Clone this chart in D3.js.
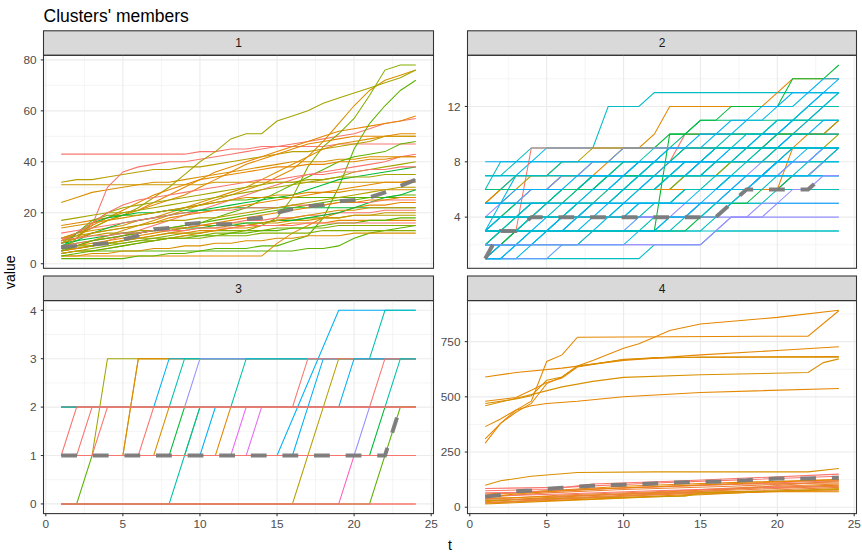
<!DOCTYPE html>
<html>
<head>
<meta charset="utf-8">
<script src="https://cdn.jsdelivr.net/npm/d3@7"></script>
<style>
  body { margin: 0; background: #fff; }
  svg { display: block; font-family: "Liberation Sans", Arial, sans-serif; }
</style>
</head>
<body>
<div id="chart"></div>
<script>
// time points used by clusters 1, 2 and the mean of cluster 4
const times = [1,2,3,4,5,6,7,8,9,10,11,12,13,14,15,16,17,18,19,20,21,22,23,24];

// ggplot hue colours, members point into this list
const palette = ['#F8766D','#EC8239','#E58700','#D89000','#C99800','#B79F00','#A3A500','#85AD00',
  '#5BB300','#00BA38','#00BF7D','#00C0AF','#00BFC4','#00B8E7','#00B0F6','#619CFF','#9590FF',
  '#B983FF','#E76BF3','#FF62BC'];

// cluster 1: one row per member, aligned with times
const values1 = [
  [43,43,43,43,43,43,43,43,43,44,44,45,45,46,46,46,46,46,47,47,47,47,47,47],
  [32,33,33,34,35,36,37,37,38,38,39,40,41,42,43,44,44,45,46,47,48,50,50,50],
  [31,31,31,31,31,31,31,31,31,31,32,32,32,32,32,32,32,32,32,32,32,32,32,32],
  [24,26,28,29,30,31,32,32,33,34,35,36,37,38,39,40,40,40,41,41,42,42,42,42],
  [8,10,15,30,36,38,39,40,40,41,42,43,44,45,46,47,48,49,50,51,53,55,56,57],
  [10,12,14,17,19,21,24,27,30,33,36,38,40,42,44,46,48,50,52,53,54,55,56,58],
  [6,7,9,11,13,15,17,19,21,23,25,27,29,31,34,37,42,48,55,62,68,72,74,76],
  [4,5,5,5,5,5,5,5,5,5,6,6,6,7,7,9,11,18,30,45,55,62,68,72],
  [5,6,7,8,9,10,10,10,11,11,12,12,13,15,18,26,38,46,51,57,66,76,78,78],
  [9,11,14,17,19,22,26,30,35,40,44,49,51,51,56,58,60,63,65,67,69,71,73,76],
  [15,16,17,18,20,21,23,25,27,30,33,36,39,41,43,45,47,48,49,50,50,50,51,51],
  [10,12,13,14,15,17,18,20,22,24,26,28,30,33,36,39,42,45,47,48,49,50,50,50],
  [7,8,9,10,11,12,13,14,15,16,18,20,22,25,28,31,34,37,40,42,43,44,47,48],
  [5,6,7,9,11,13,15,17,19,21,23,25,27,29,31,33,35,36,37,38,39,40,42,43],
  [9,12,15,18,21,24,27,29,31,33,34,35,36,37,38,38,39,39,40,40,41,41,42,42],
  [7,9,12,14,16,17,18,19,20,21,22,23,24,25,26,27,29,31,33,34,35,36,37,38],
  [17,18,19,20,20,21,22,23,24,25,26,27,28,29,30,31,32,33,34,36,37,38,39,40],
  [8,12,17,19,19,19,20,21,22,23,24,25,25,26,26,26,26,26,26,26,26,26,26,26],
  [6,12,16,18,19,20,20,21,21,21,21,22,22,22,22,22,22,22,22,22,22,22,22,22],
  [14,15,16,17,18,19,20,21,22,23,24,25,26,26,27,27,28,28,28,29,29,29,29,29],
  [3,3,3,3,3,3,3,3,3,3,3,3,3,3,8,12,15,18,20,22,23,23,24,24],
  [2,2,2,2,2,3,3,4,4,5,5,5,5,5,5,5,6,6,7,10,12,13,14,15],
  [4,5,6,7,8,9,10,11,12,12,13,13,13,13,14,14,14,14,15,15,15,15,15,15],
  [3,3,4,4,5,5,6,6,7,7,8,8,9,9,10,10,11,11,11,12,12,12,12,12],
  [5,6,7,8,9,10,11,12,12,13,13,14,14,15,15,16,16,16,17,17,17,17,17,17],
  [9,10,11,12,12,13,13,14,14,15,15,16,16,16,17,17,18,18,18,19,19,19,19,19],
  [7,8,9,10,11,12,13,14,14,15,16,16,17,17,18,18,19,19,20,20,20,21,21,21],
  [6,6,7,8,9,10,11,12,13,14,14,15,15,16,16,17,17,18,18,19,19,20,20,20],
  [5,7,9,10,11,12,13,14,15,16,17,18,19,20,21,22,23,24,25,25,26,26,27,27],
  [8,9,10,11,12,12,13,13,14,14,15,15,16,16,17,17,18,19,20,22,24,26,27,29],
  [12,13,14,15,16,17,18,19,20,20,21,21,22,22,22,23,23,23,24,24,24,25,25,25],
  [8,10,12,13,14,15,16,18,19,20,21,22,23,24,25,26,27,28,29,30,31,32,32,33],
  [5,10,16,20,22,23,24,25,26,27,28,29,30,31,32,32,33,33,34,34,34,35,35,35],
  [9,12,16,20,23,25,26,27,28,29,30,31,32,33,33,34,35,35,36,36,37,37,38,38],
  [4,5,5,6,7,8,9,10,11,12,13,14,15,16,17,18,19,20,21,21,22,22,22,22],
  [3,4,5,6,7,8,9,10,10,11,11,12,12,13,13,14,14,15,16,16,17,17,18,18],
  [6,7,8,9,10,11,12,13,14,15,16,17,18,19,20,21,22,23,24,24,25,25,26,26],
  [10,11,12,13,14,15,16,17,17,18,18,19,20,21,22,23,24,25,26,27,28,29,30,30],
  [6,7,7,8,8,9,9,10,10,10,11,11,11,12,12,12,12,13,13,13,13,13,13,13],
  [10,10,11,11,12,12,13,13,13,14,14,14,15,15,15,15,16,16,16,16,16,16,16,16]
];
const colour1 = [0,5,4,3,0,2,3,8,7,6,2,3,8,0,2,9,6,8,9,3,2,8,7,3,2,5,0,4,8,9,0,2,6,0,3,8,2,5,7,0];
const mean1 = [6.5,7,7.5,8,9.5,11,13.5,14,15.5,16,15.5,15.5,17.5,18,20,21.5,22.5,23,24.5,25,26,28,30.5,33];

// cluster 2: one row per member, aligned with times
const values2 = [
  [1,1,1,1,1,1,1,1,1,1,1,2,2,2,2,3,3,3,3,3,3,3,3,3],
  [2,2,2,2,2,2,2,2,2,2,2,2,2,2,2,3,4,4,4,5,5,5,5,5],
  [3,3,3,3,3,3,3,3,3,3,3,3,3,3,3,3,3,3,3,3,3,3,3,3],
  [4,4,4,4,4,4,4,4,4,4,4,4,4,4,4,4,4,4,4,4,4,4,4,4],
  [5,5,5,5,5,5,5,5,5,5,5,5,5,5,5,5,5,5,5,5,5,5,5,5],
  [6,6,6,6,6,6,6,6,6,6,6,6,6,6,6,6,6,6,6,6,6,6,6,6],
  [7,7,7,7,7,7,7,7,7,7,7,7,7,7,7,7,7,7,7,7,7,7,7,7],
  [6,8,8,8,8,8,8,8,8,8,8,8,8,8,8,8,8,8,8,8,8,8,8,8],
  [7,7,8,9,9,9,9,9,12,12,12,13,13,13,13,13,13,13,13,13,13,13,13,13],
  [3,5,7,8,9,9,9,9,9,9,9,9,9,9,9,9,9,9,9,9,9,9,9,9],
  [5,6,7,7,7,7,7,7,8,9,9,10,12,12,12,12,12,12,12,13,14,14,14,14],
  [2,3,3,9,9,9,9,9,9,9,9,9,9,9,9,9,9,9,9,9,9,9,9,9],
  [5,5,6,6,6,7,7,7,7,7,7,7,8,10,10,10,10,10,10,10,10,10,10,10],
  [2,3,3,3,3,3,3,3,3,3,3,3,10,10,10,10,10,10,10,10,10,10,10,11],
  [2,3,4,4,5,5,6,6,7,7,8,8,9,10,11,11,11,11,11,11,11,11,11,11],
  [3,4,5,6,6,7,7,8,8,9,9,9,10,10,11,11,12,12,12,12,14,14,14,15],
  [1,2,3,4,4,4,4,4,4,4,4,4,4,5,5,5,6,7,8,9,10,10,10,10],
  [5,6,6,7,7,8,8,9,9,9,9,9,9,9,9,9,9,9,9,10,10,11,12,12],
  [3,3,4,5,5,6,6,7,7,8,8,9,9,9,9,9,9,9,10,10,11,11,12,12],
  [1,1,2,3,3,4,4,5,5,6,6,7,7,8,8,9,9,9,9,9,10,11,12,13],
  [2,2,3,4,4,4,4,5,5,5,6,6,6,7,7,7,8,8,8,9,9,9,9,9],
  [1,1,1,2,3,3,3,3,4,4,5,5,5,6,6,6,7,7,7,8,8,8,9,9],
  [3,3,3,3,4,4,5,5,5,6,6,6,7,7,8,8,8,9,9,10,11,12,13,14],
  [4,4,5,5,5,5,6,6,6,6,7,7,7,7,8,8,8,8,9,9,9,9,9,9],
  [2,2,2,3,3,4,4,4,4,5,5,5,5,6,6,6,7,7,7,8,8,8,8,8],
  [4,4,4,4,5,5,5,5,6,6,6,6,6,7,7,7,8,8,8,8,9,9,9,10],
  [1,1,1,1,1,2,2,3,3,3,4,4,4,4,5,5,5,6,6,6,7,7,7,7],
  [2,2,2,2,2,2,2,3,3,3,3,4,4,4,4,5,5,5,5,6,6,6,6,6],
  [3,3,3,3,3,3,4,4,4,5,5,5,5,5,6,6,6,6,7,7,7,7,8,8],
  [1,2,3,3,3,3,3,3,3,3,3,3,3,3,4,4,5,5,6,6,7,7,8,9],
  [4,4,4,4,4,4,4,4,4,4,4,4,4,4,4,4,5,6,7,7,7,7,8,9],
  [5,6,6,6,6,6,6,6,6,6,6,6,6,6,6,6,6,6,6,6,9,10,10,11],
  [3,3,3,3,3,3,3,3,3,3,3,3,3,3,3,4,5,6,7,8,9,9,9,9],
  [5,5,5,6,6,6,6,7,7,7,7,8,8,8,8,9,9,9,10,10,11,12,13,13],
  [6,6,7,7,7,8,8,8,8,8,8,8,8,9,9,9,10,10,10,11,11,11,11,11],
  [1,2,2,3,3,4,4,5,5,6,6,7,7,8,8,9,9,9,9,9,9,9,9,9],
  [2,3,3,4,4,5,5,6,6,7,7,8,8,9,9,9,9,9,9,9,9,9,9,9],
  [3,4,4,5,5,6,6,7,7,7,8,8,9,9,9,10,10,11,11,12,12,13,13,13],
  [4,5,5,6,6,7,7,8,8,9,9,9,9,9,9,9,9,9,9,9,9,9,9,9],
  [1,1,2,2,3,3,4,4,5,5,6,6,7,7,8,8,9,9,9,9,9,9,9,9],
  [3,3,3,4,4,4,5,5,5,6,6,6,7,7,7,8,8,8,9,9,9,9,9,9],
  [2,2,2,2,3,3,3,4,4,4,5,5,5,6,6,6,7,7,7,8,8,8,9,9],
  [4,4,4,5,5,6,6,6,7,7,7,8,8,8,8,9,9,9,9,9,9,9,9,9],
  [5,5,5,5,5,6,6,7,7,8,8,8,8,9,9,9,9,9,9,9,9,9,9,9],
  [6,6,6,6,6,6,6,6,6,7,7,7,8,8,8,8,9,9,9,9,10,10,11,11],
  [3,3,3,3,3,3,3,3,3,3,3,3,4,4,5,5,6,6,7,7,8,8,9,9],
  [3,3,3,3,3,3,3,3,3,3,3,3,3,4,4,5,5,6,6,7,7,8,8,9],
  [4,4,4,4,4,4,4,4,4,4,4,4,4,4,5,5,6,6,7,7,8,8,9,9],
  [4,4,4,4,4,4,4,4,4,4,4,5,5,6,6,7,7,8,8,9,9,9,9,9],
  [5,5,5,5,5,5,5,5,5,5,5,5,5,5,5,6,6,7,7,8,8,9,9,9],
  [2,2,2,2,2,2,2,2,2,2,3,3,4,4,5,5,6,6,7,7,7,7,7,7],
  [7,7,7,7,7,7,7,7,7,7,7,7,7,8,8,9,9,10,10,11,11,12,12,13],
  [8,8,8,8,8,8,8,8,8,8,8,8,9,9,10,10,11,11,12,12,13,13,14,14],
  [6,6,6,6,6,6,6,6,7,7,7,7,7,7,7,8,8,9,9,10,10,10,10,10],
  [3,4,4,4,5,5,5,6,6,6,7,7,7,7,7,7,7,7,7,7,7,7,7,7],
  [2,2,2,2,2,2,2,2,2,2,2,2,2,2,2,3,4,4,5,5,6,6,7,7],
  [5,5,6,6,6,6,7,7,7,7,8,8,8,8,8,8,8,8,8,8,9,9,9,9],
  [4,4,4,4,4,4,5,5,6,6,7,7,7,7,7,8,8,9,9,9,9,9,9,9]
];
const colour2 = [12,16,12,16,14,13,14,12,12,13,2,0,0,9,10,9,16,5,11,13,10,13,14,10,12,6,15,11,13,9,16,2,12,14,11,
  14,12,13,16,14,11,13,12,10,14,13,12,16,11,14,13,12,14,10,13,16,14,12];
const mean2 = [1,3,3,4,4,4,4,4,4,4,4,4,4,4,4,4,5,6,6,6,6,6,7];

// cluster 3: members seen at irregular times, [t, value]
const pairs3 = [
  [[1,1],[3,1],[4,3],[24,3]],
  [[1,2],[2,2],[6,2]],
  [[1,0],[2,0],[3,1],[6,1]],
  [[1,1],[5,1],[6,3],[24,3]],
  [[1,1],[5,1],[6,3],[24,3]],
  [[1,1],[2,2],[24,2]],
  [[1,1],[2,1],[3,2],[24,2]],
  [[1,1],[3,1],[4,2],[24,2]],
  [[1,1],[6,1],[7,2],[24,2]],
  [[1,1],[7,1],[8,2],[24,2]],
  [[1,2],[7,2],[8,3],[24,3]],
  [[1,1],[8,1],[9,2],[24,2]],
  [[1,2],[8,2],[9,3],[24,3]],
  [[1,1],[9,1],[10,2],[24,2]],
  [[1,2],[9,2],[10,3],[24,3]],
  [[1,0],[8,0],[10,2],[24,2]],
  [[1,1],[10,1],[11,2],[24,2]],
  [[1,1],[11,1],[12,2],[24,2]],
  [[1,1],[12,1],[13,2],[24,2]],
  [[1,2],[12,2],[13,3],[17,3]],
  [[1,1],[13,1],[14,2],[24,2]],
  [[1,1],[15,1],[19,4],[24,4]],
  [[1,1],[16,1],[18,3],[24,3]],
  [[1,0],[16,0],[19,3],[24,3]],
  [[1,2],[16,2],[17,3],[24,3]],
  [[1,0],[19,0],[20,1],[24,1]],
  [[19,2],[20,3],[24,3]],
  [[1,1],[20,1],[21,2],[24,2]],
  [[1,1],[21,1],[22,2],[24,2]],
  [[1,0],[21,0],[23,2],[24,2]],
  [[1,2],[21,2],[22,3],[24,3]],
  [[1,2],[22,2],[23,3],[24,3]],
  [[21,3],[22,4],[24,4]],
  [[1,0],[24,0]],
  [[1,0],[24,0]],
  [[2,2],[24,2]],
  [[2,2],[24,2]],
  [[1,1],[24,1]],
  [[1,1],[24,1]],
  [[1,1],[24,1]]
];
const colour3 = [6,19,8,2,3,0,0,0,0,3,14,9,11,8,16,11,14,2,18,11,18,14,14,5,0,19,14,16,9,8,0,11,11,0,0,0,0,0,0,0];
const mean3 = [[1,1],[22,1],[23,2]];

// cluster 4: members seen at irregular times, [t, value]
const pairs4 = [
  [[1,590],[3,610],[6,630],[10,665],[15,690],[20,710],[24,727]],
  [[1,480],[3,497],[4,530],[5,565],[6,585],[7,635],[10,670],[15,680],[24,683]],
  [[1,460],[4,510],[6,545],[8,570],[10,588],[15,600],[22,610],[23,655],[24,672]],
  [[1,365],[2,400],[3,440],[4,460],[5,470],[7,480],[10,500],[15,520],[24,538]],
  [[1,290],[2,380],[3,440],[4,480],[5,660],[6,690],[7,770],[22,775],[24,890]],
  [[1,310],[2,380],[3,430],[4,470],[5,560],[6,590],[7,640],[8,665],[10,720],[11,740],[12,770],[13,800],[15,830],[20,860],[24,892]],
  [[1,470],[3,490],[4,505],[5,575],[6,590],[7,640],[10,668],[12,678],[24,680]],
  [[1,100],[2,120],[4,140],[7,157],[12,160],[22,160],[24,175]],
  [[1,75],[5,80],[8,105],[14,120],[24,150]],
  [[1,85],[6,90],[12,110],[18,125],[24,140]],
  [[1,60],[4,70],[10,95],[16,110],[24,125]],
  [[1,45],[5,65],[10,80],[17,95],[24,115]],
  [[1,35],[6,55],[12,70],[18,90],[24,105]],
  [[1,25],[4,40],[10,60],[16,80],[24,100]],
  [[1,20],[5,35],[12,55],[17,70],[24,90]],
  [[1,15],[6,30],[13,50],[19,70],[24,85]],
  [[1,18],[3,25],[9,40],[15,60],[24,80]],
  [[1,30],[7,45],[14,65],[24,75]],
  [[1,40],[8,55],[16,70],[24,70]],
  [[1,50],[6,60],[12,75],[20,90],[24,95]],
  [[1,55],[5,75],[11,90],[18,105],[24,110]],
  [[1,65],[4,68],[9,85],[15,100],[24,120]],
  [[1,30],[5,38],[10,45],[14,50],[15,65],[24,80]],
  [[1,40],[4,35],[6,50],[12,65],[24,95]],
  [[1,20],[4,30],[8,45],[13,60],[24,120]],
  [[1,45],[3,60],[5,70],[9,85],[24,125]]
];
const colour4 = [2,2,3,2,2,2,3,3,0,0,2,1,1,2,1,3,2,1,2,0,1,0,4,1,1,2];
const mean4 = [48,55,72,76,83,88,93,97,100,102,104,108,112,113,115,115,120,122,127,130,130,130,132,134];

const yTicks1 = [0,20,40,60,80];
const yTicks2 = [4,8,12];
const yTicks3 = [0,1,2,3,4];
const yTicks4 = [0,250,500,750];
const xTicks = [0,5,10,15,20,25];

// layout
const W = 862, H = 552;
const cols = [{x0: 43.5, x1: 433.5}, {x0: 467.5, x1: 856.5}];
const rows = [{s0: 30.8, p0: 55.3, p1: 268.3}, {s0: 276, p0: 300.6, p1: 513.6}];

const toPairs = vals => vals.map((v, i) => [times[i], v]);

const panels = [
  {label: '1', members: values1.map(toPairs), colours: colour1, mean: toPairs(mean1), ticks: yTicks1, col: 0, row: 0},
  {label: '2', members: values2.map(toPairs), colours: colour2, mean: toPairs(mean2), ticks: yTicks2, col: 1, row: 0},
  {label: '3', members: pairs3, colours: colour3, mean: mean3, ticks: yTicks3, col: 0, row: 1},
  {label: '4', members: pairs4, colours: colour4, mean: toPairs(mean4), ticks: yTicks4, col: 1, row: 1}
];

function expand(ext) {
  let pad = (ext[1] - ext[0]) * 0.05;
  return [ext[0] - pad, ext[1] + pad];
}

function minorOf(ticks, dom) {
  let step = ticks[1] - ticks[0];
  let out = [ticks[0] - step / 2];
  ticks.forEach(t => out.push(t + step / 2));
  return out.filter(v => v > dom[0] && v < dom[1]);
}

const svg = d3.select('#chart').append('svg')
  .attr('width', W)
  .attr('height', H);

svg.append('rect').attr('width', W).attr('height', H).attr('fill', '#fff');

let allT = panels.flatMap(p => p.members.flat().map(d => d[0]));
let xDomain = expand(d3.extent(allT));

panels.forEach((p, pi) => {
  let c = cols[p.col], r = rows[p.row];
  let x = d3.scaleLinear().domain(xDomain).range([c.x0, c.x1]);
  let yDomain = expand(d3.extent(p.members.flat().concat(p.mean), d => d[1]));
  let y = d3.scaleLinear().domain(yDomain).range([r.p1, r.p0]);

  let g = svg.append('g');

  // strip
  g.append('rect')
    .attr('x', c.x0).attr('y', r.s0)
    .attr('width', c.x1 - c.x0).attr('height', r.p0 - r.s0)
    .attr('fill', '#D9D9D9').attr('stroke', '#333').attr('stroke-width', 1.07);
  g.append('text')
    .attr('x', (c.x0 + c.x1) / 2).attr('y', (r.s0 + r.p0) / 2)
    .attr('dy', '0.36em')
    .attr('text-anchor', 'middle')
    .attr('font-size', 12)
    .attr('fill', '#1A1A1A')
    .text(p.label);

  // grid
  let grid = g.append('g');
  minorOf(p.ticks, yDomain).forEach(v => {
    grid.append('line').attr('x1', c.x0).attr('x2', c.x1).attr('y1', y(v)).attr('y2', y(v))
      .attr('stroke', '#EBEBEB').attr('stroke-width', 0.55);
  });
  minorOf(xTicks, xDomain).forEach(v => {
    grid.append('line').attr('y1', r.p0).attr('y2', r.p1).attr('x1', x(v)).attr('x2', x(v))
      .attr('stroke', '#EBEBEB').attr('stroke-width', 0.55);
  });
  p.ticks.forEach(v => {
    grid.append('line').attr('x1', c.x0).attr('x2', c.x1).attr('y1', y(v)).attr('y2', y(v))
      .attr('stroke', '#EBEBEB').attr('stroke-width', 1.1);
  });
  xTicks.forEach(v => {
    grid.append('line').attr('y1', r.p0).attr('y2', r.p1).attr('x1', x(v)).attr('x2', x(v))
      .attr('stroke', '#EBEBEB').attr('stroke-width', 1.1);
  });

  // members
  let clipId = 'clip' + pi;
  svg.append('clipPath').attr('id', clipId).append('rect')
    .attr('x', c.x0).attr('y', r.p0).attr('width', c.x1 - c.x0).attr('height', r.p1 - r.p0);

  let line = d3.line().x(d => x(d[0])).y(d => y(d[1]));
  let body = g.append('g').attr('clip-path', 'url(#' + clipId + ')');
  body.selectAll('path.member')
    .data(p.members)
    .enter().append('path')
    .attr('class', 'member')
    .attr('d', line)
    .attr('fill', 'none')
    .attr('stroke', (d, i) => palette[p.colours[i]])
    .attr('stroke-width', 1.07);

  // cluster mean
  body.append('path')
    .datum(p.mean)
    .attr('d', line)
    .attr('fill', 'none')
    .attr('stroke', '#7A7A7A')
    .attr('stroke-opacity', 0.95)
    .attr('stroke-width', 4)
    .attr('stroke-dasharray', '15.8,15.8');

  // border
  g.append('rect')
    .attr('x', c.x0).attr('y', r.p0)
    .attr('width', c.x1 - c.x0).attr('height', r.p1 - r.p0)
    .attr('fill', 'none').attr('stroke', '#333').attr('stroke-width', 1.07);

  // y axis
  p.ticks.forEach(v => {
    g.append('line').attr('x1', c.x0 - 2.7).attr('x2', c.x0).attr('y1', y(v)).attr('y2', y(v))
      .attr('stroke', '#333').attr('stroke-width', 1.07);
    g.append('text')
      .attr('x', c.x0 - 7).attr('y', y(v)).attr('dy', '0.36em')
      .attr('text-anchor', 'end').attr('font-size', 11.8).attr('fill', '#4D4D4D')
      .text(v);
  });

  // x axis on the bottom row only
  if (p.row === 1) {
    xTicks.forEach(v => {
      g.append('line').attr('y1', r.p1).attr('y2', r.p1 + 2.7).attr('x1', x(v)).attr('x2', x(v))
        .attr('stroke', '#333').attr('stroke-width', 1.07);
      g.append('text')
        .attr('x', x(v)).attr('y', r.p1 + 14)
        .attr('text-anchor', 'middle').attr('font-size', 11.8).attr('fill', '#4D4D4D')
        .text(v);
    });
  }
});

// titles
svg.append('text')
  .attr('x', 43.5).attr('y', 22)
  .attr('font-size', 17.5).attr('fill', '#000')
  .text("Clusters' members");

svg.append('text')
  .attr('x', (cols[0].x0 + cols[1].x1) / 2).attr('y', 549.5)
  .attr('text-anchor', 'middle').attr('font-size', 14).attr('fill', '#000')
  .text('t');

svg.append('text')
  .attr('transform', 'translate(15,' + ((rows[0].s0 + rows[1].p1) / 2) + ') rotate(-90)')
  .attr('text-anchor', 'middle').attr('font-size', 14).attr('fill', '#000')
  .text('value');
</script>
</body>
</html>
